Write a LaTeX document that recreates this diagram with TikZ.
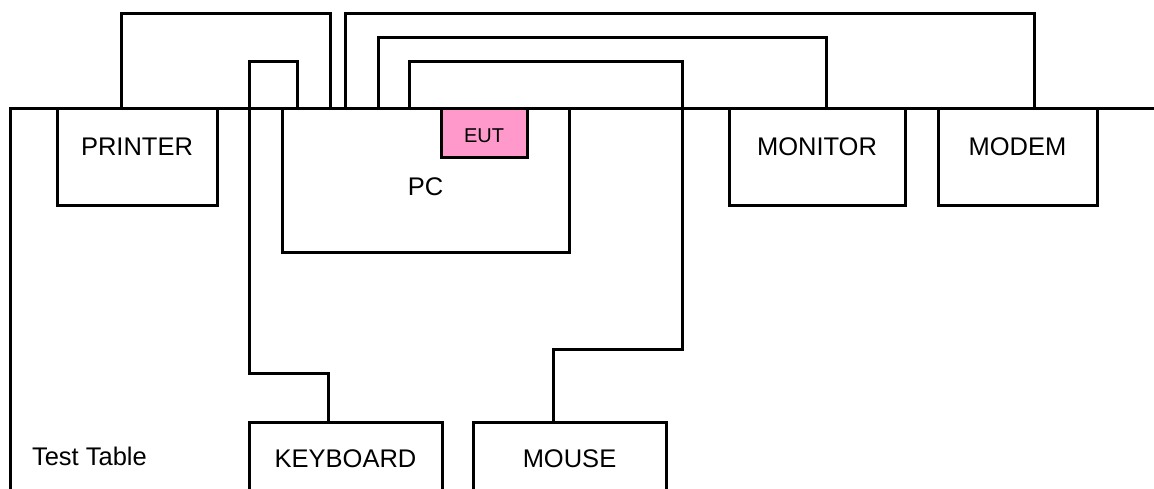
\documentclass[tikz,border=0pt]{standalone}
\usepackage{fontspec}
\setmainfont{Liberation Sans}
\usetikzlibrary{calc}
\definecolor{eutpink}{RGB}{255,153,204}
\tikzset{
  box/.style={draw=black, line width=3pt, rectangle, inner sep=0pt, outer sep=0pt, anchor=north west, line join=miter},
  cable/.style={draw=black, line width=3pt, line join=miter},
  lbl/.style={inner sep=0pt, outer sep=0pt, anchor=base, font=\fontsize{25.5}{30}\selectfont},
  smalllbl/.style={inner sep=0pt, outer sep=0pt, anchor=base, font=\fontsize{20}{24}\selectfont}
}
\begin{document}
\begin{tikzpicture}[x=1pt,y=-1pt]
\useasboundingbox (0,0) rectangle (1154,488);
\clip (0,0) rectangle (1154,488);
\fill[white] (0,0) rectangle (1154,488);
% table
\coordinate (tl) at (10,108.5);
\draw[cable] (1160,108.5) -- (tl) -- (10,500);
% boxes
\node[box, minimum width=160pt, minimum height=96.5pt] (printer) at (57,108.5) {};
\node[box, minimum width=287pt, minimum height=143.5pt] (pc) at (282,108.5) {};
\node[box, fill=eutpink, minimum width=86pt, minimum height=48.5pt] (eut) at (441,108.5) {};
\node[box, minimum width=176pt, minimum height=96.5pt] (monitor) at (729,108.5) {};
\node[box, minimum width=159pt, minimum height=96.5pt] (modem) at (938,108.5) {};
\node[box, minimum width=193pt, minimum height=120pt] (keyboard) at (249,422) {};
\node[box, minimum width=193pt, minimum height=120pt] (mouse) at (473,422) {};
% labels
\node[lbl] (tprinter) at (137,155) {PRINTER};
\node[lbl] (tpc) at (425.5,195) {PC};
\node[smalllbl] (teut) at (484,142) {EUT};
\node[lbl] (tmonitor) at (817,155) {MONITOR};
\node[lbl] (tmodem) at (1017.5,155) {MODEM};
\node[lbl] (tkeyboard) at (345.5,467) {KEYBOARD};
\node[lbl] (tmouse) at (569.5,467) {MOUSE};
\node[lbl, anchor=base west] (ttable) at (32,465) {Test Table};
% routing levels
\coordinate (r1) at (0,13.5);
\coordinate (r2) at (0,37);
\coordinate (r3) at (0,61);
\coordinate (r4) at (0,373);
\coordinate (r5) at (0,349);
\coordinate (c682) at (682,0);
% cable end points
\coordinate (p0) at ($(printer.north west)+(64,0)$);
\coordinate (p1) at ($(pc.north west)+(48,0)$);
\coordinate (k0) at ($(pc.north west)+(15,0)$);
\coordinate (k1) at ($(keyboard.north west)+(79,0)$);
\coordinate (d0) at ($(pc.north west)+(63,0)$);
\coordinate (d1) at ($(modem.north west)+(96,0)$);
\coordinate (m0) at ($(pc.north west)+(96,0)$);
\coordinate (m1) at ($(monitor.north west)+(97,0)$);
\coordinate (u0) at ($(pc.north west)+(127,0)$);
\coordinate (u1) at ($(mouse.north west)+(80,0)$);
% cables
\draw[cable] (p0) -- (p0 |- r1) -| (p1);
\draw[cable] (k0) |- (r3 -| keyboard.north west) -- (keyboard.north west |- r4) -| (k1);
\draw[cable] (d0) -- (d0 |- r1) -| (d1);
\draw[cable] (m0) -- (m0 |- r2) -| (m1);
\draw[cable] (u0) -- (u0 |- r3) -| (c682 |- r5) -| (u1);
\end{tikzpicture}
\end{document}
